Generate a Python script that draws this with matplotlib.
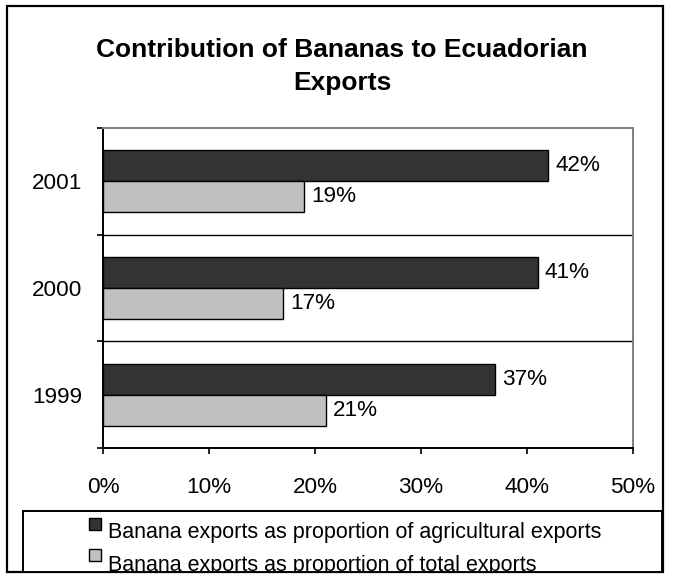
import matplotlib.pyplot as plt
from matplotlib.patches import Rectangle
from matplotlib.transforms import Bbox, TransformedBbox

# ---------------- Data ----------------
years = ["1999", "2000", "2001"]
agri_share = [37, 41, 42]    # % of agricultural exports
total_share = [21, 17, 19]   # % of total exports
series_names = ["Banana exports as proportion of agricultural exports",
                "Banana exports as proportion of total exports"]
x_ticks = [0, 10, 20, 30, 40, 50]

plt.rcParams['font.family'] = ['Liberation Sans', 'DejaVu Sans']

W, H = 673, 580
fig = plt.figure(figsize=(W / 100, H / 100), dpi=100)
FS = 16.2


def px(x, y):
    # pixel (from top-left) -> figure fraction
    return x / W, 1 - y / H


ax = fig.add_axes([103 / W, 1 - 448 / H, (633 - 103) / W, (448 - 128) / H])

pos = list(range(len(years)))
h = 0.29
b_agri = ax.barh([p + h / 2 for p in pos], agri_share, height=h,
                 color="#333333", edgecolor="black", linewidth=1)
b_tot = ax.barh([p - h / 2 for p in pos], total_share, height=h,
                color="#c0c0c0", edgecolor="black", linewidth=1)

ax.bar_label(b_agri, labels=[f"{v}%" for v in agri_share], padding=5, fontsize=FS)
ax.bar_label(b_tot, labels=[f"{v}%" for v in total_share], padding=5, fontsize=FS)

ax.set_xlim(0, 50)
ax.set_ylim(-0.5, 2.5)
ax.set_xticks(x_ticks)
ax.set_xticklabels([f"{t}%" for t in x_ticks], fontsize=FS)
ax.tick_params(axis="x", direction="out", length=4, width=1.2, pad=17)

ax.set_yticks(pos)
ax.set_yticklabels(years, fontsize=FS)
ax.set_yticks([-0.5, 0.5, 1.5, 2.5], minor=True)
ax.tick_params(axis="y", which="major", length=0, pad=15)
ax.tick_params(axis="y", which="minor", direction="out", length=4, width=1.2)

for yb in [0.5, 1.5]:
    ax.axhline(yb, color="black", linewidth=1)

ax.spines["left"].set_linewidth(1.4)
ax.spines["bottom"].set_linewidth(1.4)
ax.spines["top"].set_color("#808080")
ax.spines["right"].set_color("#808080")
ax.spines["top"].set_linewidth(1.4)
ax.spines["right"].set_linewidth(1.4)

# title
tx, ty = px(342, 38)
fig.text(tx, ty, "Contribution of Bananas to Ecuadorian\nExports", ha="center", va="top",
         fontsize=19, fontweight="bold", linespacing=1.45)

# outer frame
x0, y0 = px(7, 572)
x1, y1 = px(663, 6)
fig.add_artist(Rectangle((x0, y0), x1 - x0, y1 - y0, transform=fig.transFigure,
                         fill=False, edgecolor="black", linewidth=1.6))

# legend box (drawn by hand so the second line is clipped like the original)
lx0, ly0 = px(23, 572)
lx1, ly1 = px(662, 511)
fig.add_artist(Rectangle((lx0, ly0), lx1 - lx0, ly1 - ly0, transform=fig.transFigure,
                         fill=True, facecolor="white", edgecolor="black", linewidth=1.4,
                         zorder=2))
clip = TransformedBbox(Bbox.from_extents(lx0, ly0, lx1, ly1), fig.transFigure)
colors = ["#333333", "#c0c0c0"]
for i, (name, col) in enumerate(zip(series_names, colors)):
    top = 518 + i * 31
    sx, sy = px(89, top + 12)
    fig.add_artist(Rectangle((sx, sy), 12 / W, 12 / H, transform=fig.transFigure,
                             facecolor=col, edgecolor="black", linewidth=1, zorder=3))
    bx, by = px(108, 538 + i * 33)
    t = fig.text(bx, by, name, ha="left", va="baseline", fontsize=15.5, zorder=3)
    t.set_clip_box(clip)
    t.set_clip_on(True)

fig.savefig("out.png", dpi=100)
